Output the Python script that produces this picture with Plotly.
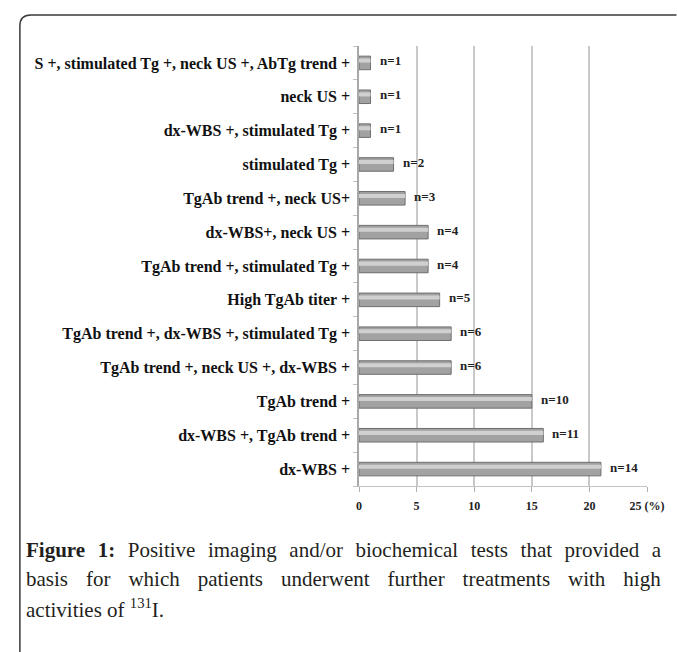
import plotly.graph_objects as go

categories = [
    "S +, stimulated Tg +, neck US +, AbTg trend +",
    "neck US +",
    "dx-WBS +, stimulated Tg +",
    "stimulated Tg +",
    "TgAb trend +, neck US+",
    "dx-WBS+, neck US +",
    "TgAb trend +, stimulated Tg +",
    "High TgAb titer +",
    "TgAb trend +, dx-WBS +, stimulated Tg +",
    "TgAb trend +, neck US +, dx-WBS +",
    "TgAb trend +",
    "dx-WBS +, TgAb trend +",
    "dx-WBS +",
]
percent = [1, 1, 1, 3, 4, 6, 6, 7, 8, 8, 15, 16, 21]
n_counts = [1, 1, 1, 2, 3, 4, 4, 5, 6, 6, 10, 11, 14]
x_ticks = [0, 5, 10, 15, 20, 25]
x_tick_labels = ["0", "5", "10", "15", "20", "25 (%)"]

W, H = 677, 652
L, R, T, B = 359, 25, 46, 166
PW, PH = W - L - R, H - T - B


def px(x):
    return (x - L) / PW


def py(y):
    return (H - B - y) / PH


SERIF = "Liberation Serif, Times New Roman, serif"

fig = go.Figure()
fig.add_trace(go.Bar(
    y=categories, x=percent, orientation="h", width=0.4,
    marker=dict(color="#a2a2a2", line=dict(color="#6e6e6e", width=1)),
    hoverinfo="skip", showlegend=False,
))
fig.add_trace(go.Bar(
    y=categories, x=percent, orientation="h", width=0.12, offset=-0.13,
    marker=dict(color="#d0d0d0", line=dict(width=0)),
    hoverinfo="skip", showlegend=False,
))

for c, v, n in zip(categories, percent, n_counts):
    fig.add_annotation(
        x=v, y=c, text=f"<b>n={n}</b>", showarrow=False,
        xanchor="left", yanchor="middle", xshift=7, yshift=2,
        font=dict(family=SERIF, size=13, color="#222"),
    )

cap_font = dict(family=SERIF, size=21, color="#231f20")
caption = [
    ("<b>Figure 1:</b> Positive imaging and/or biochemical tests that provided a", 550, 7.3),
    ("basis for which patients underwent further treatments with high", 579, 12.7),
    ("activities of <sup>131</sup>I.", 608, 0),
]
for txt, yy, ws in caption:
    fig.add_annotation(
        xref="paper", yref="paper", x=px(18), y=py(yy),
        text=f'<span style="word-spacing:{ws}px">{txt}</span>',
        showarrow=False, xanchor="left", yanchor="middle", font=cap_font,
    )

# figure frame with rounded top-left corner
x0, y0, rr = 14, 15, 11
path = (f"M {px(x0)},{py(H + 5)} L {px(x0)},{py(y0 + rr)} "
        f"Q {px(x0)},{py(y0)} {px(x0 + rr)},{py(y0)} L {px(W + 5)},{py(y0)}")
fig.add_shape(type="path", xref="paper", yref="paper", path=path,
              line=dict(color="#3a3a3a", width=1.5))

fig.update_layout(
    width=W, height=H, margin=dict(l=L, r=R, t=T, b=B),
    paper_bgcolor="white", plot_bgcolor="white", barmode="overlay",
    xaxis=dict(
        range=[0, 25], tickvals=x_ticks,
        ticktext=[f"<b>{t}</b>" for t in x_tick_labels],
        showgrid=True, gridcolor="#c9c9c9", gridwidth=1.5, zeroline=False,
        showline=True, linecolor="#c4c4c4", linewidth=1,
        ticks="outside", ticklen=5, tickcolor="#b0b0b0",
        tickfont=dict(family=SERIF, size=12, color="#222"),
        ticklabelstandoff=4,
    ),
    yaxis=dict(
        autorange="reversed", showgrid=False, zeroline=False,
        showline=True, linecolor="#a8a8a8", linewidth=1.5,
        ticks="outside", ticklen=4, tickcolor="#c0c0c0", tickson="boundaries",
        tickfont=dict(family=SERIF, size=16, color="#111"),
        ticktext=[f"<b>{c}</b>" for c in categories], tickvals=categories,
        ticklabelstandoff=4,
    ),
)

fig.write_html("out.html", config={"displayModeBar": False},
               post_script="document.body.style.margin='0';")
